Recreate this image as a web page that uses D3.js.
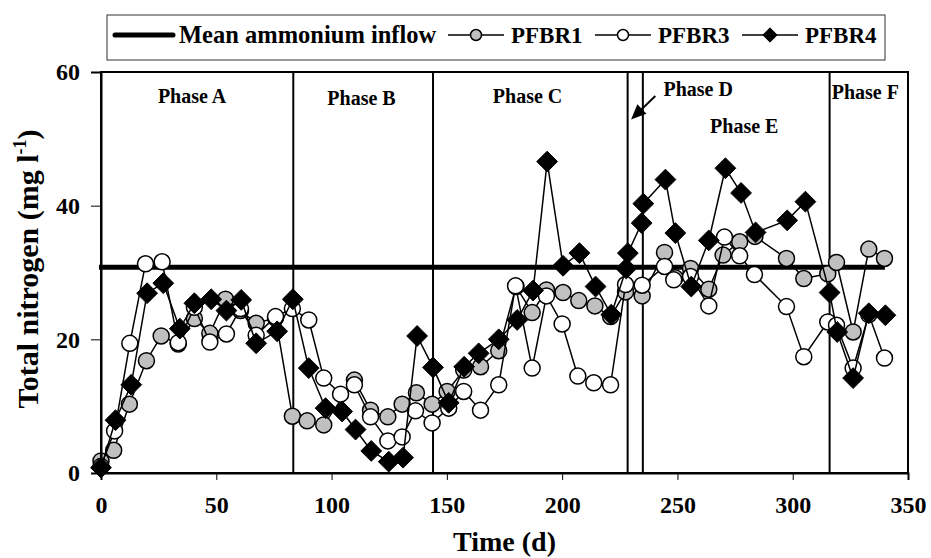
<!DOCTYPE html>
<html>
<head>
<meta charset="utf-8">
<script src="https://cdn.jsdelivr.net/npm/d3@7"></script>
<style>
  body { margin: 0; background: #fff; }
  svg { display: block; }
  text { font-family: "Liberation Serif", "Times New Roman", serif; font-weight: bold; fill: #000; }
</style>
</head>
<body>
<svg id="chart" width="931" height="558"></svg>
<script>
// Sampling days and total nitrogen (mg/l) per reactor
const pfbr1Days = [0, 5.5, 12.3, 19.7, 26.1, 33.5, 40.5, 47.2, 54, 60.5, 67.3, 75.7, 83, 89.4, 96.6, 109.9, 116.9, 124.4, 130.6, 136.8, 143.6, 150.1, 157.3, 164.6, 172.5, 180, 187, 193.2, 200.4, 207.2, 214.2, 221, 227.5, 234.7, 244.4, 249, 255.7, 263.6, 269.8, 277, 283.6, 297.3, 304.8, 315.2, 319, 326.2, 333, 339.8];
const pfbr1 = [1.8, 3.4, 10.3, 16.8, 20.5, 19.3, 23.1, 20.9, 26.0, 24.3, 22.4, 23.2, 8.5, 7.8, 7.2, 13.9, 9.4, 8.4, 10.3, 12.0, 10.3, 12.2, 15.4, 15.9, 18.3, 27.9, 24.0, 27.4, 27.0, 25.8, 25.0, 23.4, 27.1, 26.5, 33.0, 29.2, 30.6, 27.5, 32.6, 34.6, 35.4, 32.1, 29.1, 29.8, 31.5, 21.1, 33.5, 32.1];

const pfbr3Days = [0, 5.9, 12.5, 19.3, 26.5, 33.5, 40.5, 47.2, 54.4, 60.5, 67.3, 75.7, 83, 90.1, 96.6, 103.9, 109.9, 116.9, 124.4, 130.6, 136.4, 143.6, 150.8, 157.3, 164.6, 172.5, 179.8, 187, 193.2, 200, 206.8, 213.7, 221, 227.5, 234.7, 244.4, 248.4, 255.7, 263.6, 270.4, 277, 283.4, 297.3, 304.8, 315.2, 319, 326.2, 333, 339.8];
const pfbr3 = [1.0, 6.3, 19.4, 31.3, 31.6, 19.5, 24.8, 19.6, 20.8, 24.6, 20.6, 23.4, 24.6, 22.9, 14.2, 11.8, 13.2, 8.4, 4.8, 5.4, 9.3, 7.5, 9.7, 12.2, 9.4, 13.2, 28.0, 15.7, 26.5, 22.3, 14.5, 13.5, 13.2, 28.2, 28.1, 30.9, 28.9, 29.4, 25.0, 35.3, 32.5, 29.7, 24.9, 17.4, 22.6, 22.1, 15.7, 23.7, 17.2];

const pfbr4Days = [0, 6.3, 13.1, 20, 27, 34.2, 40.5, 47.8, 54.4, 60.8, 67.3, 76.4, 83.2, 90.1, 97.4, 104.6, 110.4, 117.2, 124.8, 131, 137.1, 144, 150.8, 157.5, 163.8, 172.5, 180.5, 187.4, 193.5, 200.4, 207.5, 214.5, 221.3, 227.8, 228.5, 234.5, 235.2, 244.8, 249.1, 256, 263.6, 270.8, 277.6, 283.9, 297.6, 305.5, 316, 319.3, 326.2, 333, 340.2];
const pfbr4 = [0.8, 7.9, 13.2, 26.9, 28.4, 21.6, 25.4, 26.0, 24.3, 25.9, 19.4, 21.2, 26.0, 15.7, 9.7, 9.2, 6.5, 3.3, 1.7, 2.3, 20.5, 15.8, 10.5, 15.9, 17.9, 20.0, 22.9, 27.3, 46.6, 31.0, 32.9, 27.9, 23.7, 30.6, 32.9, 37.4, 40.3, 43.9, 35.9, 27.9, 34.8, 45.6, 41.9, 36.0, 37.8, 40.6, 27.0, 21.1, 14.2, 23.9, 23.6];

// Mean ammonium concentration of the inflow and the period it spans
const meanInflow = 30.8;
const meanInflowDays = [0, 340];

// Operating phases: boundaries (days) and names
const phaseBounds = [83.4, 144, 228.4, 235, 316];
const phaseNames = ["Phase A", "Phase B", "Phase C", "Phase D", "Phase E", "Phase F"];

// Axis ticks
const xTicks = [0, 50, 100, 150, 200, 250, 300, 350];
const yTicks = [0, 20, 40, 60];

const seriesNames = ["PFBR1", "PFBR3", "PFBR4"];

// ---------------------------------------------------------------
const svg = d3.select("#chart");
const x = d3.scaleLinear().domain([0, 350]).range([101, 908]);
const y = d3.scaleLinear().domain([0, 60]).range([473, 72]);

const styles = {
  PFBR1: { shape: "circle", fill: "#c0c0c0" },
  PFBR3: { shape: "circle", fill: "#ffffff" },
  PFBR4: { shape: "diamond", fill: "#000000" }
};

function marker(g, cx, cy, shape, fill, r) {
  if (shape === "circle") {
    g.append("circle").attr("cx", cx).attr("cy", cy).attr("r", r)
      .attr("fill", fill).attr("stroke", "#000").attr("stroke-width", 1.5);
  } else {
    const h = r * 1.3;
    g.append("path")
      .attr("d", `M${cx},${cy - h}L${cx + h},${cy}L${cx},${cy + h}L${cx - h},${cy}Z`)
      .attr("fill", fill).attr("stroke", "#000").attr("stroke-width", 1);
  }
}

// Phase boundaries
svg.append("g").selectAll("line").data(phaseBounds).join("line")
  .attr("x1", d => x(d)).attr("x2", d => x(d))
  .attr("y1", y(60)).attr("y2", y(0))
  .attr("stroke", "#000").attr("stroke-width", 2);

// Phase labels
const phaseLabelPos = [
  { day: 39.5, v: 55.4 }, { day: 113, v: 55.0 }, { day: 185, v: 55.4 },
  { day: 259, v: 56.4 }, { day: 279, v: 50.9 }, { day: 331.5, v: 55.9 }
];
svg.append("g").selectAll("text").data(phaseNames).join("text")
  .attr("x", (d, i) => x(phaseLabelPos[i].day))
  .attr("y", (d, i) => y(phaseLabelPos[i].v))
  .attr("text-anchor", "middle")
  .attr("font-size", 20)
  .text(d => d);

// Arrow from the Phase D label to its narrow band
const ax1 = x(240.4), ay1 = y(56.4), ax2 = x(229.9), ay2 = y(52.9);
const ang = Math.atan2(ay2 - ay1, ax2 - ax1);
svg.append("line").attr("x1", ax1).attr("y1", ay1)
  .attr("x2", ax2 - 8 * Math.cos(ang)).attr("y2", ay2 - 8 * Math.sin(ang))
  .attr("stroke", "#000").attr("stroke-width", 2);
const hl = 15, hw = 6.5;
const bx = ax2 - hl * Math.cos(ang), by = ay2 - hl * Math.sin(ang);
svg.append("path")
  .attr("d", `M${ax2},${ay2}L${bx + hw * Math.sin(ang)},${by - hw * Math.cos(ang)}L${bx - hw * Math.sin(ang)},${by + hw * Math.cos(ang)}Z`)
  .attr("fill", "#000");

// Mean ammonium inflow
svg.append("line")
  .attr("x1", x(meanInflowDays[0]) - 2).attr("x2", x(meanInflowDays[1]))
  .attr("y1", y(meanInflow)).attr("y2", y(meanInflow))
  .attr("stroke", "#000").attr("stroke-width", 5);

// Reactor series
const seriesData = [
  { name: "PFBR1", days: pfbr1Days, vals: pfbr1 },
  { name: "PFBR3", days: pfbr3Days, vals: pfbr3 },
  { name: "PFBR4", days: pfbr4Days, vals: pfbr4 }
];
const lineGen = d3.line().x(d => x(d[0])).y(d => y(d[1]));
seriesData.forEach(s => {
  const pts = s.days.map((d, i) => [d, s.vals[i]]);
  const g = svg.append("g");
  g.append("path").attr("d", lineGen(pts)).attr("fill", "none")
    .attr("stroke", "#000").attr("stroke-width", 1.5);
  const st = styles[s.name];
  pts.forEach(p => marker(g, x(p[0]), y(p[1]), st.shape, st.fill, 8));
});

// Frame and axes
svg.append("rect").attr("x", x(0)).attr("y", y(60))
  .attr("width", x(350) - x(0)).attr("height", y(0) - y(60))
  .attr("fill", "none").attr("stroke", "#000").attr("stroke-width", 2);

const yAxis = d3.axisLeft(y).tickValues(yTicks).tickSize(10).tickPadding(11);
const gy = svg.append("g").attr("transform", `translate(${x(0)},0)`).call(yAxis);
const xAxis = d3.axisBottom(x).tickValues(xTicks).tickSize(7).tickPadding(16);
const gx = svg.append("g").attr("transform", `translate(0,${y(0)})`).call(xAxis);
[gx, gy].forEach(g => {
  g.select(".domain").attr("stroke", "#000").attr("stroke-width", 2);
  g.selectAll(".tick line").attr("stroke", "#000").attr("stroke-width", 1);
  g.selectAll(".tick text").attr("font-size", 24)
    .attr("font-family", '"Liberation Serif", "Times New Roman", serif')
    .attr("font-weight", "bold").attr("fill", "#000");
});

// Axis titles
svg.append("text").attr("x", x(175)).attr("y", 551)
  .attr("text-anchor", "middle").attr("font-size", 28).text("Time (d)");
const yt = svg.append("text")
  .attr("transform", `translate(38,269) rotate(-90)`)
  .attr("text-anchor", "middle").attr("font-size", 30);
yt.append("tspan").text("Total nitrogen (mg l");
yt.append("tspan").attr("dy", -12).attr("font-size", 18).text("-1");
yt.append("tspan").attr("dy", 12).text(")");

// Legend
const leg = svg.append("g");
leg.append("rect").attr("x", 107).attr("y", 15).attr("width", 778).attr("height", 45)
  .attr("fill", "#fff").attr("stroke", "#333").attr("stroke-width", 1);
leg.append("line").attr("x1", 115).attr("x2", 173).attr("y1", 35).attr("y2", 35)
  .attr("stroke", "#000").attr("stroke-width", 5).attr("stroke-linecap", "round");
leg.append("text").attr("x", 179).attr("y", 43).attr("font-size", 24.5).text("Mean ammonium inflow");
const legX = [448, 595, 742];
seriesNames.forEach((n, i) => {
  const x0 = legX[i];
  leg.append("line").attr("x1", x0).attr("x2", x0 + 56).attr("y1", 35).attr("y2", 35)
    .attr("stroke", "#000").attr("stroke-width", 1.5);
  marker(leg, x0 + 28, 35, styles[n].shape, styles[n].fill, 5.5);
  leg.append("text").attr("x", x0 + 63).attr("y", 43).attr("font-size", 23).text(n);
});
</script>
</body>
</html>
